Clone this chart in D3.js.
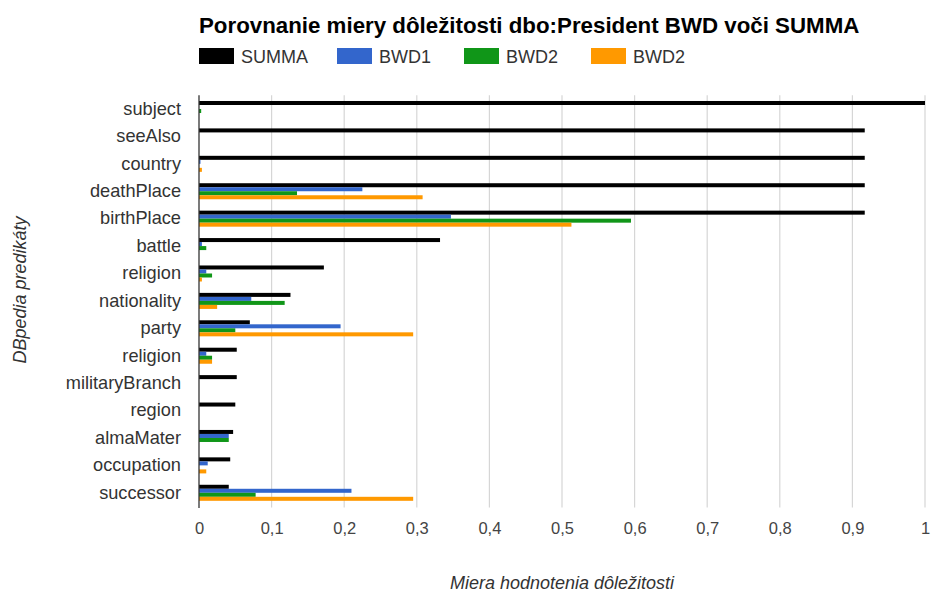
<!DOCTYPE html>
<html>
<head>
<meta charset="utf-8">
<script src="https://cdn.jsdelivr.net/npm/d3@7/dist/d3.min.js"></script>
<style>
  html, body { margin: 0; padding: 0; background: #fff; }
  svg { display: block; font-family: "Liberation Sans", Arial, sans-serif; }
</style>
</head>
<body>
<svg id="chart" width="933" height="596"></svg>
<script>
// DBpedia predicates shown on the vertical axis (top to bottom)
const categories = ["subject", "seeAlso", "country", "deathPlace", "birthPlace", "battle",
  "religion", "nationality", "party", "religion", "militaryBranch", "region",
  "almaMater", "occupation", "successor"];

// Series names as shown in the legend
const seriesNames = ["SUMMA", "BWD1", "BWD2", "BWD2"];
const seriesColors = ["#000000", "#3366cc", "#109618", "#ff9900"];

// Importance measure values per predicate
const summa = [1.0, 0.917, 0.917, 0.917, 0.917, 0.332, 0.172, 0.126, 0.070, 0.052, 0.052, 0.050, 0.047, 0.043, 0.041];
const bwd1  = [0.0, 0.0, 0.002, 0.225, 0.347, 0.004, 0.010, 0.072, 0.195, 0.010, 0.0, 0.0, 0.041, 0.012, 0.210];
const bwd2a = [0.003, 0.0, 0.0, 0.135, 0.595, 0.010, 0.018, 0.118, 0.050, 0.018, 0.0, 0.0, 0.041, 0.0, 0.078];
const bwd2b = [0.0, 0.0, 0.004, 0.308, 0.513, 0.0, 0.004, 0.025, 0.295, 0.018, 0.0, 0.0, 0.0, 0.010, 0.295];

const xTicks = [0, 0.1, 0.2, 0.3, 0.4, 0.5, 0.6, 0.7, 0.8, 0.9, 1];

const seriesValues = [summa, bwd1, bwd2a, bwd2b];
const rows = categories.map((c, i) => ({ idx: i, name: c, values: seriesValues.map(s => s[i]) }));

const svg = d3.select("#chart");
const plot = { left: 199, right: 925, top: 95.3, bottom: 506.5 };

const x = d3.scaleLinear().domain([0, 1]).range([plot.left, plot.right]);
const y = d3.scaleBand().domain(d3.range(categories.length))
  .range([plot.top, plot.bottom]).paddingInner(0.415).paddingOuter(0.2075);
const ySub = d3.scaleBand().domain(d3.range(seriesNames.length)).range([0, y.bandwidth()]);

// Title
svg.append("text")
  .attr("x", plot.left).attr("y", 33)
  .attr("font-size", 22.3).attr("font-weight", "bold").attr("fill", "#000")
  .text("Porovnanie miery dôležitosti dbo:President BWD voči SUMMA");

// Legend
const legendX = [199, 337, 464, 591];
const legend = svg.append("g");
seriesNames.forEach((name, i) => {
  const g = legend.append("g").attr("transform", `translate(${legendX[i]},48)`);
  g.append("rect").attr("width", 35).attr("height", 16).attr("fill", seriesColors[i]);
  g.append("text").attr("x", 42).attr("y", 14.5).attr("font-size", 18).attr("fill", "#333").text(name);
});

// Vertical gridlines
svg.append("g").selectAll("line").data(xTicks.filter(t => t > 0)).join("line")
  .attr("x1", d => x(d)).attr("x2", d => x(d))
  .attr("y1", plot.top).attr("y2", plot.bottom + 1)
  .attr("stroke", "#d6d6d6").attr("stroke-width", 1.2);

// Bars
const groups = svg.append("g").selectAll("g").data(rows).join("g")
  .attr("transform", d => `translate(0,${y(d.idx)})`);
groups.selectAll("rect").data(d => d.values.map((v, k) => ({ v, k }))).join("rect")
  .attr("x", x(0))
  .attr("y", d => ySub(d.k))
  .attr("width", d => Math.max(0, x(d.v) - x(0)))
  .attr("height", ySub.bandwidth())
  .attr("fill", d => seriesColors[d.k]);

// Baseline at zero
svg.append("line")
  .attr("x1", x(0)).attr("x2", x(0))
  .attr("y1", plot.top).attr("y2", plot.bottom + 1.5)
  .attr("stroke", "#333").attr("stroke-width", 1.3);

// X axis tick labels
const fmt = d => d3.format("~g")(d).replace(".", ",");
const xAxis = d3.axisBottom(x).tickValues(xTicks).tickSize(0).tickPadding(0).tickFormat(fmt);
const xg = svg.append("g").attr("transform", `translate(0,${plot.bottom + 16})`).call(xAxis);
xg.select(".domain").remove();
xg.selectAll("text").attr("font-size", 16.5).attr("fill", "#444").attr("font-family", null);

// Y axis category labels
const yAxis = d3.axisLeft(y).tickSize(0).tickPadding(0).tickFormat(i => categories[i]);
const yg = svg.append("g").attr("transform", `translate(${plot.left - 18},0)`).call(yAxis);
yg.select(".domain").remove();
yg.selectAll("text").attr("font-size", 18.2).attr("fill", "#333").attr("font-family", null);

// Axis titles
svg.append("text")
  .attr("x", (plot.left + plot.right) / 2).attr("y", 589)
  .attr("text-anchor", "middle").attr("font-size", 18).attr("font-style", "italic").attr("fill", "#333")
  .text("Miera hodnotenia dôležitosti");
svg.append("text")
  .attr("transform", `translate(26,290) rotate(-90)`)
  .attr("text-anchor", "middle").attr("font-size", 18).attr("font-style", "italic").attr("fill", "#333")
  .text("DBpedia predikáty");
</script>
</body>
</html>
